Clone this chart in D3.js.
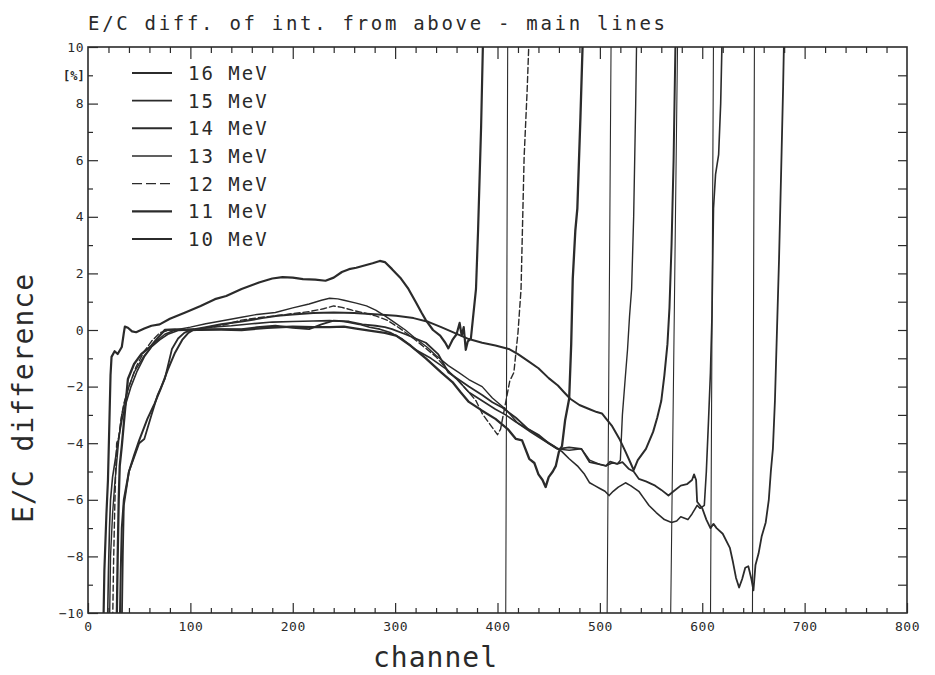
<!DOCTYPE html>
<html><head><meta charset="utf-8">
<script src="https://cdn.jsdelivr.net/npm/d3@7"></script>
<style>
html,body{margin:0;padding:0;background:#fff;}
svg{display:block;}
text{fill:#2a2a2a;font-family:"DejaVu Sans Mono",monospace;}
</style></head><body>
<svg id="chart" width="935" height="675"></svg>
<script>
const titleText = "E/C diff. of int. from above - main lines";
const seriesNames = ["16 MeV","15 MeV","14 MeV","13 MeV","12 MeV","11 MeV","10 MeV"];
const seriesWidths = [1.8,1.6,2.0,1.4,1.4,2.3,2.2];
const seriesDash = [null,null,null,null,"6,3",null,null];

const mev16 = [[33,-10.5],[34,-8],[35,-6.2],[40,-5.0],[45,-4.5],[50,-4.0],[55,-3.85],[62,-3.0],[68,-2.3],[75,-1.73],[82,-0.67],[88,-0.3],[94,-0.1],[100,0.0],[110,0.0],[130,0.03],[150,0.03],[165,0.1],[183,0.15],[200,0.08],[216,0.03],[228,0.2],[240,0.33],[255,0.3],[268,0.2],[281,0.15],[290,0.1],[297,0.03],[310,-0.15],[320,-0.3],[330,-0.45],[342,-0.85],[352,-1.5],[362,-1.75],[372,-2.0],[385,-2.3],[395,-2.55],[405,-2.75],[418,-3.1],[430,-3.5],[440,-3.7],[450,-4.0],[459,-4.2],[470,-4.15],[482,-4.2],[490,-4.67],[500,-4.75],[506,-4.8],[510,-4.65],[517,-4.73],[522,-4.67],[528,-4.9],[533,-5.0],[538,-5.26],[545,-5.35],[554,-5.5],[560,-5.65],[567,-5.85],[572,-5.7],[579,-5.5],[585,-5.45],[590,-5.3],[592,-5.1],[594,-5.3],[595,-6.07],[600,-6.3],[604,-6.7],[608,-7.0],[611,-6.85],[614,-7.0],[620,-7.2],[627,-7.7],[630,-8.2],[633,-8.76],[636,-9.1],[639,-8.8],[642,-8.4],[645,-8.35],[648,-8.8],[650,-9.2],[652,-8.3],[655,-7.9],[658,-7.3],[662,-6.8],[665,-6.0],[667,-5.0],[669,-4.2],[671,-2.5],[673,0],[675,2.5],[677,5.5],[679,8.6],[680,10.5]];

const mev15 = [[19,-10.5],[20,-8.5],[21,-7],[22,-6],[24,-5.2],[27,-4.5],[30,-3.8],[33,-3.2],[37,-2.6],[42,-2.0],[48,-1.45],[55,-0.95],[62,-0.6],[70,-0.35],[78,-0.15],[88,-0.02],[100,0.0],[120,0.1],[140,0.15],[160,0.22],[180,0.28],[200,0.3],[220,0.32],[236,0.33],[250,0.3],[265,0.2],[275,0.1],[285,0.03],[296,-0.1],[307,-0.32],[320,-0.7],[335,-1.0],[350,-1.38],[362,-1.8],[372,-2.2],[385,-2.5],[398,-2.8],[408,-3.0],[418,-3.25],[432,-3.55],[444,-3.85],[455,-4.1],[463,-4.3],[470,-4.55],[478,-4.8],[485,-5.1],[490,-5.4],[495,-5.5],[500,-5.6],[505,-5.7],[509,-5.85],[513,-5.7],[518,-5.55],[525,-5.4],[530,-5.5],[538,-5.7],[543,-5.95],[548,-6.2],[555,-6.45],[563,-6.7],[570,-6.8],[575,-6.75],[579,-6.6],[586,-6.7],[590,-6.5],[595,-6.2],[598,-6.3],[602,-6.2],[604,-5.0],[606,-3.3],[608,-1.5],[609.5,0.5],[611,4.3],[613,5.5],[616,6.2],[618,8],[619.5,10.5],[651,10.5],[649,-10.5]];

const mev14 = [[31,-10.5],[32,-8.5],[33,-7],[35,-6.0],[40,-5.0],[45,-4.43],[50,-3.9],[58,-3.14],[65,-2.6],[71,-2.08],[78,-1.4],[85,-0.8],[92,-0.35],[98,-0.1],[104,0.03],[115,0.1],[130,0.2],[150,0.3],[170,0.42],[185,0.5],[200,0.55],[220,0.6],[240,0.62],[260,0.6],[280,0.56],[301,0.5],[318,0.42],[333,0.28],[345,0.1],[358,-0.1],[372,-0.32],[385,-0.45],[398,-0.55],[411,-0.67],[420,-0.85],[430,-1.1],[440,-1.35],[450,-1.7],[459,-1.96],[465,-2.2],[471,-2.43],[480,-2.65],[490,-2.8],[497,-2.9],[502,-2.95],[506,-3.13],[512,-3.4],[519,-3.84],[525,-4.3],[530,-4.7],[533,-4.95],[537,-4.6],[545,-4.2],[552,-3.6],[556,-3.1],[560,-2.5],[563,-1.6],[566,-0.5],[568,0.8],[570,3.0],[572,6.0],[574,10.5],[611,10.5],[608,-10.5]];

const mev13 = [[21,-10.5],[22,-8],[24,-6.5],[26,-5.5],[28,-4.7],[30,-3.9],[33,-3.0],[38,-2.2],[45,-1.5],[55,-0.9],[65,-0.45],[75,-0.15],[85,0.0],[100,0.1],[115,0.22],[130,0.32],[150,0.45],[165,0.55],[183,0.62],[200,0.78],[216,0.92],[228,1.05],[236,1.12],[244,1.1],[250,1.05],[262,0.95],[272,0.85],[281,0.7],[290,0.5],[300,0.25],[310,0.0],[320,-0.3],[331,-0.6],[340,-0.9],[352,-1.26],[362,-1.5],[372,-1.75],[385,-2.0],[395,-2.4],[408,-2.8],[420,-3.3],[432,-3.6],[445,-3.9],[458,-4.2],[470,-4.25],[482,-4.2],[490,-4.6],[500,-4.75],[506,-4.8],[512,-4.7],[517,-4.73],[520,-4.6],[522,-3.0],[525,-1.6],[527,-0.7],[529,0.5],[531,1.45],[533,4],[535,8],[536,10.5],[576,10.5],[569,-10.5]];

const mev12 = [[24,-10.5],[25,-8.2],[26,-6.5],[27,-5],[28,-4],[30,-3.8],[32,-3.2],[35,-2.6],[40,-2.0],[47,-1.3],[55,-0.75],[62,-0.4],[70,-0.1],[80,0.0],[95,0.02],[110,0.05],[130,0.15],[150,0.35],[170,0.45],[183,0.5],[200,0.58],[216,0.65],[230,0.75],[240,0.85],[248,0.8],[258,0.7],[270,0.6],[281,0.5],[292,0.35],[305,0.05],[318,-0.3],[330,-0.65],[340,-0.95],[352,-1.45],[362,-1.8],[372,-2.2],[379,-2.5],[385,-2.95],[390,-3.2],[395,-3.45],[400,-3.7],[403,-3.5],[412,-1.8],[416,-1.5],[420,-0.1],[423,1.45],[426,6.1],[429,8.5],[431,10.5]];

const mev11 = [[28,-10.5],[29,-8],[30,-6],[31,-4.8],[33,-4.1],[35,-3.3],[39,-1.73],[45,-1.2],[52,-0.85],[62,-0.55],[70,-0.2],[75,0],[85,0.02],[100,0.0],[120,0.02],[150,0.0],[175,0.08],[200,0.12],[220,0.1],[236,0.1],[250,0.12],[262,0.05],[275,-0.02],[290,-0.1],[301,-0.2],[315,-0.55],[330,-1.0],[345,-1.5],[356,-1.84],[364,-2.2],[372,-2.54],[385,-2.85],[398,-3.14],[410,-3.5],[418,-3.85],[424,-3.9],[431,-4.55],[436,-4.7],[440,-5.1],[444,-5.3],[447,-5.55],[450,-5.2],[454,-5.0],[457,-4.8],[460,-4.3],[463,-4.1],[466,-3.2],[470,-2.43],[472,-0.5],[473.5,1.8],[476,3.5],[478,4.3],[481,7.5],[483.5,10.5],[511,10.5],[507,-10.5]];

const mev10 = [[15,-10.5],[16,-8.5],[18,-6.5],[19.5,-5.3],[21,-3.1],[22,-1.6],[23,-0.95],[26,-0.75],[29,-0.85],[33,-0.6],[35,-0.1],[36,0.12],[39,0.08],[43,-0.05],[47,-0.08],[55,0.05],[62,0.15],[70,0.2],[80,0.4],[95,0.62],[110,0.85],[124,1.09],[135,1.2],[150,1.45],[167,1.68],[180,1.82],[190,1.87],[200,1.85],[210,1.8],[222,1.78],[232,1.74],[240,1.85],[248,2.05],[255,2.15],[262,2.2],[270,2.28],[278,2.36],[285,2.44],[290,2.4],[297,2.15],[305,1.85],[313,1.45],[320,1.0],[326,0.6],[330,0.35],[337,0.0],[344,-0.2],[349,-0.45],[352,-0.65],[356,-0.35],[360,-0.15],[363,0.25],[365,-0.2],[367,0.1],[369,-0.7],[371,-0.4],[374,-0.3],[376,0.4],[379,1.45],[381,3.5],[384,7.2],[386,10.5],[410,10.5],[408,-10.5]];

const seriesData = [mev16, mev15, mev14, mev13, mev12, mev11, mev10];

const xTicks = [0,100,200,300,400,500,600,700,800];
const yTicks = [-10,-8,-6,-4,-2,0,2,4,6,8,10];
const xMinorTicks = d3.range(0, 801, 20).filter(v => v % 100 !== 0);
const yMinorTicks = [-9,-7,-5,-3,-1,1,3,5,7,9];
const yRightTicks = d3.range(-9, 10, 1);

const svg = d3.select("#chart");
const ink = "#2b2b2b";
const x = d3.scaleLinear().domain([0, 800]).range([88, 907]);
const y = d3.scaleLinear().domain([-10, 10]).range([613, 47]);

svg.append("rect").attr("width", 935).attr("height", 675).attr("fill", "#fff");

svg.append("defs").append("clipPath").attr("id", "plotclip")
  .append("rect").attr("x", x(0)).attr("y", y(10)).attr("width", x(800) - x(0)).attr("height", y(-10) - y(10));

function styleAxis(g) {
  g.select(".domain").remove();
  g.selectAll("line").attr("stroke", ink).attr("stroke-width", 1.2);
  g.selectAll("text").attr("fill", ink).style("font-size", "13px")
    .style("font-family", '"DejaVu Sans Mono", monospace').style("letter-spacing", "0.5px");
}

svg.append("g").attr("transform", `translate(0,${y(-10)})`)
  .call(d3.axisBottom(x).tickValues(xMinorTicks).tickSize(-5).tickFormat(""))
  .call(styleAxis);
svg.append("g").attr("transform", `translate(0,${y(-10)})`)
  .call(d3.axisBottom(x).tickValues(xTicks).tickSize(-10).tickPadding(9).tickFormat(d3.format("d")))
  .call(styleAxis);
svg.append("g").attr("transform", `translate(0,${y(10)})`)
  .call(d3.axisTop(x).tickValues(xMinorTicks).tickSize(-6).tickFormat(""))
  .call(styleAxis);
svg.append("g").attr("transform", `translate(0,${y(10)})`)
  .call(d3.axisTop(x).tickValues(xTicks.slice(1, -1)).tickSize(-12).tickFormat(""))
  .call(styleAxis);
svg.append("g").attr("transform", `translate(${x(0)},0)`)
  .call(d3.axisLeft(y).tickValues(yMinorTicks).tickSize(-5).tickFormat(""))
  .call(styleAxis);
svg.append("g").attr("transform", `translate(${x(0)},0)`)
  .call(d3.axisLeft(y).tickValues(yTicks).tickSize(-10).tickPadding(4).tickFormat(d3.format("d")))
  .call(styleAxis);
svg.append("g").attr("transform", `translate(${x(800)},0)`)
  .call(d3.axisRight(y).tickValues(yRightTicks).tickSize(-9).tickFormat(""))
  .call(styleAxis);

svg.append("rect").attr("x", x(0)).attr("y", y(10))
  .attr("width", x(800) - x(0)).attr("height", y(-10) - y(10))
  .attr("fill", "none").attr("stroke", ink).attr("stroke-width", 1.6);

// series: main trace up to where it leaves the top, then the thin return line
const line = d3.line().x(d => x(d[0])).y(d => y(d[1]));
const plot = svg.append("g").attr("clip-path", "url(#plotclip)");
seriesData.forEach((data, i) => {
  const k = data.findIndex(d => d[1] > 10);
  const main = k >= 0 ? data.slice(0, k + 1) : data;
  const tail = k >= 0 ? data.slice(k) : [];
  plot.append("path").datum(main)
    .attr("d", line)
    .attr("fill", "none")
    .attr("stroke", ink)
    .attr("stroke-width", seriesWidths[i])
    .attr("stroke-linejoin", "round")
    .attr("stroke-linecap", "round")
    .attr("stroke-dasharray", seriesDash[i]);
  if (tail.length > 1) {
    plot.append("path").datum(tail)
      .attr("d", line)
      .attr("fill", "none")
      .attr("stroke", ink)
      .attr("stroke-width", 1.1);
  }
});

const legendRow = d3.scaleLinear().domain([0, 6]).range([73, 239]);
seriesNames.forEach((name, i) => {
  const yy = legendRow(i);
  svg.append("line").attr("x1", 132).attr("x2", 172).attr("y1", yy).attr("y2", yy)
    .attr("stroke", ink).attr("stroke-width", seriesWidths[i])
    .attr("stroke-dasharray", seriesDash[i] ? "10,4" : null);
  svg.append("text").attr("x", 188).attr("y", yy + 7)
    .style("font-size", "19px").style("letter-spacing", "2px").text(name);
});

svg.append("text").attr("x", 88).attr("y", 30)
  .style("font-size", "19px").style("letter-spacing", "2.7px").text(titleText);
svg.append("text").attr("x", 63).attr("y", 80)
  .style("font-size", "12px").style("font-weight", "bold").text("[%]");
svg.append("text").attr("transform", "translate(33,398) rotate(-90)")
  .attr("text-anchor", "middle").style("font-size", "28px").style("letter-spacing", "1px")
  .text("E/C difference");
svg.append("text").attr("x", 373).attr("y", 667)
  .style("font-size", "28px").style("letter-spacing", "1px").text("channel");
</script>
</body></html>
